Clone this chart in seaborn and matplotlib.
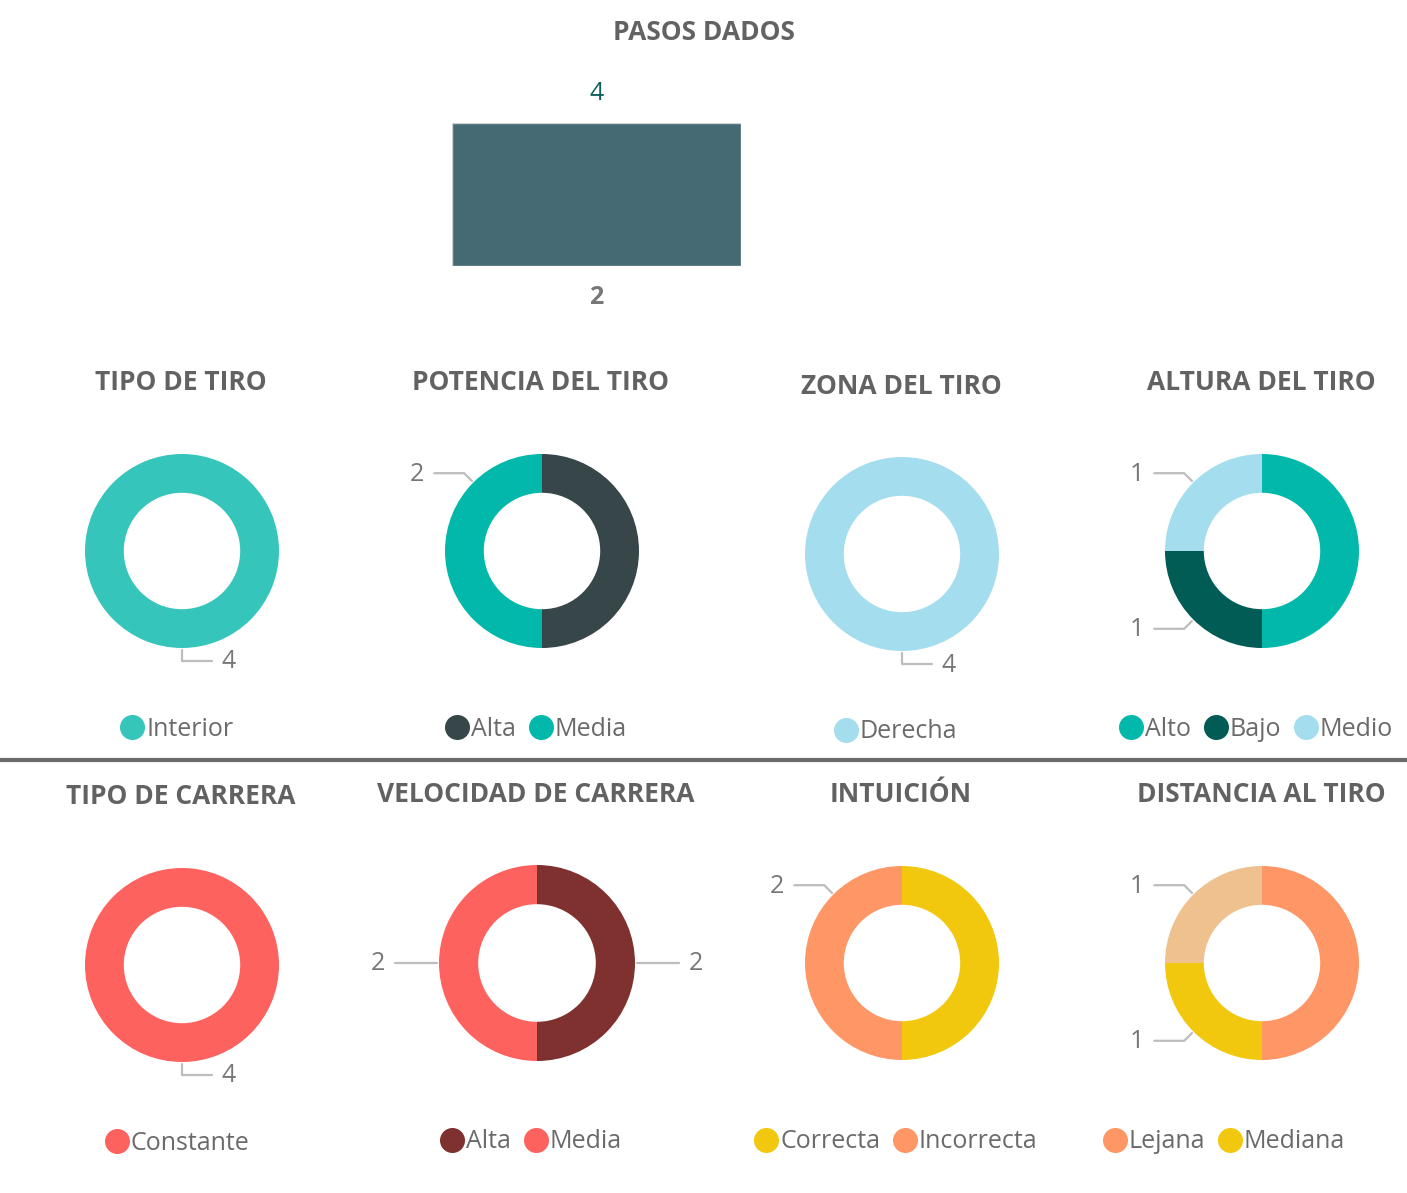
import numpy as np
import matplotlib.pyplot as plt
from matplotlib.lines import Line2D
import seaborn as sns

# ---- data ----
pasos_cat = ['2']
pasos_val = [4]

tipo_tiro_labels = ['Interior']
tipo_tiro_vals = [4]
potencia_labels = ['Alta', 'Media']
potencia_vals = [2, 2]
zona_labels = ['Derecha']
zona_vals = [4]
altura_labels = ['Alto', 'Bajo', 'Medio']
altura_vals = [2, 1, 1]

carrera_labels = ['Constante']
carrera_vals = [4]
velocidad_labels = ['Alta', 'Media']
velocidad_vals = [2, 2]
intuicion_labels = ['Correcta', 'Incorrecta']
intuicion_vals = [2, 2]
distancia_labels = ['Lejana', 'Mediana', 'Corta']
distancia_vals = [2, 1, 1]

# ---- style ----
sns.set_theme(style='white')
plt.rcParams['font.family'] = ['Open Sans', 'DejaVu Sans']

W, H = 1407, 1193
TITLE_C = '#626262'
TEXT_C = '#6a6a6a'
LABEL_C = '#777777'
LINE_C = '#bdbdbd'
TITLE_FS = 19
LEG_FS = 18
LAB_FS = 18

fig = plt.figure(figsize=(W / 100, H / 100), dpi=100)
fig.patch.set_facecolor('white')

ov = fig.add_axes([0, 0, 1, 1])
ov.set_xlim(0, W)
ov.set_ylim(H, 0)
ov.axis('off')


def px_axes(x0, y0, x1, y1):
    return fig.add_axes([x0 / W, 1 - y1 / H, (x1 - x0) / W, (y1 - y0) / H])


# ---- top bar chart ----
ov.text(704, 32, 'PASOS DADOS', ha='center', va='center', fontsize=TITLE_FS,
        fontweight='bold', color=TITLE_C)
bax = px_axes(452, 123, 741, 266)
sns.barplot(x=pasos_cat, y=pasos_val, ax=bax, color='#466A74', width=1.0,
            saturation=1, edgecolor='#d0d0d0', linewidth=1)
bax.set_xlim(-0.5, 0.5)
bax.set_ylim(0, max(pasos_val))
bax.set_yticks([])
bax.set_ylabel('')
bax.tick_params(axis='x', length=0, pad=14, labelsize=LAB_FS, labelcolor=LABEL_C)
for t in bax.get_xticklabels():
    t.set_fontweight('bold')
sns.despine(ax=bax, left=True, bottom=True)
bax.bar_label(bax.containers[0], padding=12, fontsize=LAB_FS, color='#0E5E59')
bax.patch.set_alpha(0)


# ---- donuts ----
def leader(cx, cy, r, ang, text):
    a = np.radians(ang)
    d = np.array([np.sin(a), -np.cos(a)])
    p = np.array([cx, cy]) + d * (r + 2)
    if abs(d[0]) > 0.99:
        end = p + d * 42
        ov.plot([p[0], end[0]], [p[1], end[1]], color=LINE_C, lw=1.6)
        side = 1 if d[0] > 0 else -1
    else:
        elbow = p + d * 11
        side = -1 if d[0] < -0.01 else 1
        end = elbow + np.array([side * 30, 0])
        ov.plot([p[0], elbow[0], end[0]], [p[1], elbow[1], end[1]],
                color=LINE_C, lw=1.6)
    ov.text(end[0] + side * 10, end[1] + 1, text, ha='left' if side > 0 else 'right',
            va='center', fontsize=LAB_FS, color=LABEL_C)


def donut(cx, cy, r, vals, colors, title, ty, labels, lx, ly, labels_at, n_leg=None):
    ax = px_axes(cx - r, cy - r, cx + r, cy + r)
    ax.pie(vals, colors=colors, startangle=90, counterclock=False, radius=1,
           wedgeprops=dict(width=0.4, edgecolor='none'))
    ax.set_xlim(-1, 1)
    ax.set_ylim(-1, 1)
    ax.axis('off')
    ov.text(cx - 1, ty + 2, title, ha='center', va='center', fontsize=TITLE_FS,
            fontweight='bold', color=TITLE_C)
    for idx, ang in labels_at:
        leader(cx, cy, r, ang, str(vals[idx]))
    n = n_leg or len(labels)
    handles = [Line2D([], [], marker='o', linestyle='', markersize=17,
                      markerfacecolor=c, markeredgecolor=c) for c in colors[:n]]
    fig.legend(handles, labels[:n], loc='center', bbox_to_anchor=(lx, ly + 2),
               bbox_transform=ov.transData, ncol=n, frameon=False,
               handletextpad=0.0, columnspacing=0.45, handlelength=1.1,
               borderaxespad=0, borderpad=0,
               prop={'size': LEG_FS}, labelcolor=TEXT_C)


donut(182, 551, 97, tipo_tiro_vals, ['#36C5BA'], 'TIPO DE TIRO', 381,
      tipo_tiro_labels, 176, 727, [(0, 180)])
donut(542, 551, 97, potencia_vals, ['#374649', '#01B8AA'], 'POTENCIA DEL TIRO', 381,
      potencia_labels, 535, 727, [(1, 315)])
donut(902, 554, 97, zona_vals, ['#A4DDEE'], 'ZONA DEL TIRO', 384,
      zona_labels, 895, 730, [(0, 180)])
donut(1262, 551, 97, altura_vals, ['#01B8AA', '#015C55', '#A4DDEE'], 'ALTURA DEL TIRO', 381,
      altura_labels, 1255, 727, [(2, 315), (1, 225)])

donut(182, 965, 97, carrera_vals, ['#FD625E'], 'TIPO DE CARRERA', 795,
      carrera_labels, 176, 1141, [(0, 180)])
donut(537, 963, 98, velocidad_vals, ['#7F312F', '#FD625E'], 'VELOCIDAD DE CARRERA', 793,
      velocidad_labels, 530, 1140, [(1, 270), (0, 90)])
donut(902, 963, 97, intuicion_vals, ['#F2C80F', '#FE9666'], 'INTUICIÓN', 793,
      intuicion_labels, 895, 1140, [(1, 315)])
donut(1262, 963, 97, distancia_vals, ['#FE9666', '#F2C80F', '#EEC18F'], 'DISTANCIA AL TIRO', 793,
      distancia_labels, 1223, 1140, [(2, 315), (1, 225)], n_leg=2)

# separator
ov.plot([0, W], [760, 760], color='#6b6b6b', lw=3, solid_capstyle='butt')

fig.savefig('out.png', dpi=100, facecolor='white')
